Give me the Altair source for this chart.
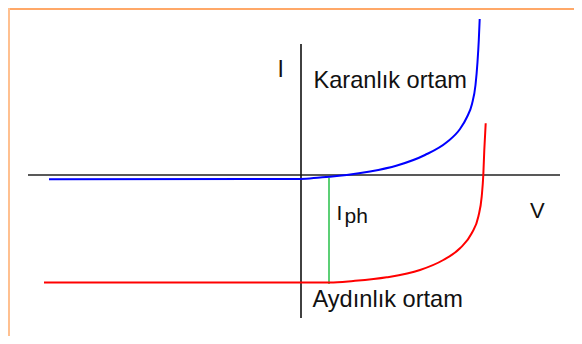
import altair as alt
import pandas as pd

# Dark (Karanlık) I-V curve: voltage (px-units from origin), current
dark_v = [-252, 0, 19, 29, 45.7, 69, 96, 124, 146, 159, 166, 171, 174.5, 176.5, 177.8, 178.7]
dark_i = [-4.3, -4, -2.5, -1.7, 0, 3.5, 9.5, 20, 33, 46, 58, 71, 90, 113, 135, 156]

# Light (Aydınlık) I-V curve
light_v = [-257, 29, 52.3, 85.7, 119, 142.3, 159, 170.7, 177.3, 180.7, 182.3, 183.3, 184.7]
light_i = [-107.6, -107.6, -106, -102.3, -95, -85, -73.3, -58.3, -41.7, -21.7, 0, 25, 51.7]

# Photocurrent marker
iph_v = [28, 28]
iph_i = [-3, -109]

# Axes lines
haxis_v = [-273, 259]
haxis_i = [0, 0]
vaxis_v = [0, 0]
vaxis_i = [131, -143]

# Labels
label_text = ["I", "Karanlık ortam", "Aydınlık ortam", "V", "I", "ph"]
label_v = [-23.5, 12.5, 11.5, 229, 35.5, 43.5]
label_i = [98, 86.7, -132, -43, -45, -48]
label_size = [23, 23.6, 23.6, 22, 21, 21]

W, H = 566, 328
xs = alt.Scale(domain=[-293, 273], range=[0, W], nice=False, zero=False)
ys = alt.Scale(domain=[-161, 167], range=[H, 0], nice=False, zero=False)


def line_layer(vs, is_, color, width, interp="linear"):
    df = pd.DataFrame({"v": vs, "i": is_, "o": list(range(len(vs)))})
    return alt.Chart(df).mark_line(
        color=color, strokeWidth=width, interpolate=interp, clip=False
    ).encode(
        x=alt.X("v:Q", scale=xs, axis=None),
        y=alt.Y("i:Q", scale=ys, axis=None),
        order="o:Q",
    )


haxis = line_layer(haxis_v, haxis_i, "#222222", 1.6)
vaxis = line_layer(vaxis_v, vaxis_i, "#111111", 1.6)
green = line_layer(iph_v, iph_i, "#5ccf76", 2)
dark = line_layer(dark_v, dark_i, "#0000ff", 2, "monotone")
light = line_layer(light_v, light_i, "#ff0000", 2, "monotone")

labels_df = pd.DataFrame({"t": label_text, "v": label_v, "i": label_i, "s": label_size})
labels = alt.Chart(labels_df).mark_text(
    align="left", baseline="alphabetic", font="Liberation Sans", color="#111111"
).encode(
    x=alt.X("v:Q", scale=xs, axis=None),
    y=alt.Y("i:Q", scale=ys, axis=None),
    text="t:N",
    size=alt.Size("s:Q", scale=None, legend=None),
)

# Orange frame (top and left edges)
border_top = alt.Chart(pd.DataFrame({"a": [0]})).mark_rule(
    color="#ffa868", strokeWidth=2
).encode(x=alt.value(0), x2=alt.value(W), y=alt.value(1))
border_left = alt.Chart(pd.DataFrame({"a": [0]})).mark_rule(
    color="#ffc090", strokeWidth=2
).encode(x=alt.value(1), y=alt.value(0), y2=alt.value(H))

chart = alt.layer(
    border_top, border_left, haxis, vaxis, green, dark, light, labels
).properties(
    width=W, height=H, padding=0, autosize=alt.AutoSizeParams(type="none"),
    background="white",
).configure_view(stroke=None)

chart.save("out.html", embed_options={"renderer": "svg", "actions": False})
